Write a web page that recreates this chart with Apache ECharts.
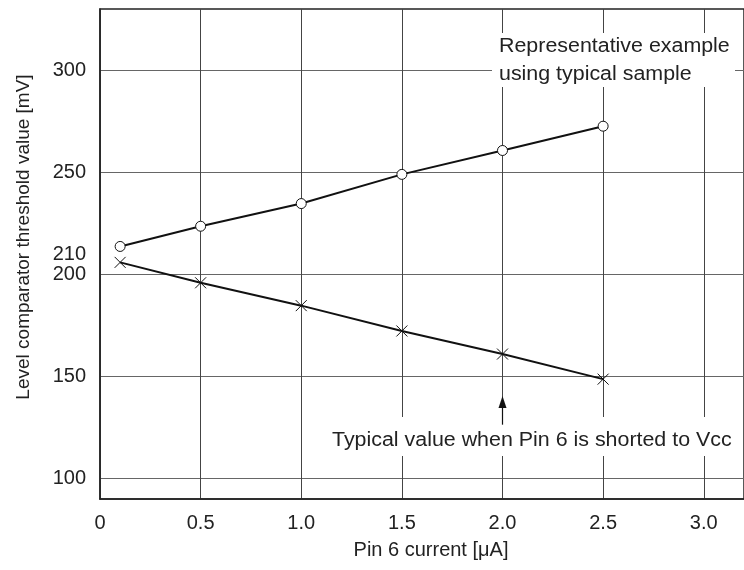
<!DOCTYPE html>
<html>
<head>
<meta charset="utf-8">
<script src="https://cdn.jsdelivr.net/npm/echarts@6/dist/echarts.min.js"></script>
<style>html,body{margin:0;padding:0;background:#fff}#c{width:744px;height:570px}</style>
</head>
<body>
<div id="c"></div>
<script>
const xValues = [0.1, 0.5, 1.0, 1.5, 2.0, 2.5];
const representative = [213.7, 223.6, 234.7, 249.0, 260.7, 272.6];
const shortedToVcc = [205.9, 195.9, 184.7, 172.3, 161.0, 148.7];
const xTicks = [0, 0.5, 1.0, 1.5, 2.0, 2.5, 3.0];
const yGridTicks = [100, 150, 200, 250, 300];
const yLabelTicks = [100, 150, 200, 210, 250, 300];
const arrowFrom = [2.0, 126.4];
const arrowTo = [2.0, 137.5];
const noteTop = 'Representative example\nusing typical sample';
const noteBottom = 'Typical value when Pin 6 is shorted to Vcc';
const xName = 'Pin 6 current [μA]';
const yName = 'Level comparator threshold value [mV]';

const font = 'Liberation Sans, Arial, sans-serif';
const chart = echarts.init(document.getElementById('c'));
chart.setOption({
  animation: false,
  grid: { left: 100, right: -11, top: 9, bottom: 71, show: true, borderColor: '#222', borderWidth: 1.5, containLabel: false },
  xAxis: {
    type: 'value', min: 0, max: 3.2,
    name: xName, nameLocation: 'middle', nameGap: 41,
    nameTextStyle: { fontFamily: font, fontSize: 20, color: '#222', padding: [0, 0, 0, 18] },
    axisLine: { show: true, lineStyle: { color: '#222', width: 1.5 } },
    axisTick: { show: false, customValues: xTicks },
    axisLabel: { customValues: xTicks, fontFamily: font, fontSize: 20, color: '#222', margin: 14,
      formatter: v => v === 0 ? '0' : v.toFixed(1) },
    splitLine: { show: true, lineStyle: { color: '#444', width: 1 } }
  },
  yAxis: {
    type: 'value', min: 90, max: 330,
    name: yName, nameLocation: 'middle', nameGap: 67,
    nameTextStyle: { fontFamily: font, fontSize: 19, color: '#222', padding: [0, 0, 0, 34] },
    axisLine: { show: true, lineStyle: { color: '#222', width: 1.5 } },
    axisTick: { show: false, customValues: yGridTicks },
    axisLabel: { customValues: yLabelTicks, fontFamily: font, fontSize: 20, color: '#222', margin: 14 },
    splitLine: { show: true, lineStyle: { color: '#666', width: 1 } }
  },
  graphic: [
    { type: 'rect', left: 492, top: 33, z: 10, shape: { width: 243, height: 54 }, style: { fill: '#fff' } },
    { type: 'text', left: 499, top: 32, z: 11, scaleX: 1.07,
      style: { text: noteTop, font: '20px ' + font, fill: '#222', lineHeight: 28 } },
    { type: 'rect', left: 326, top: 417, z: 10, shape: { width: 410, height: 39 }, style: { fill: '#fff' } },
    { type: 'text', left: 332, top: 430, z: 11, scaleX: 1.07,
      style: { text: noteBottom, font: '20px ' + font, fill: '#222' } }
  ],
  series: [
    {
      type: 'line', z: 20,
      data: xValues.map((x, i) => [x, representative[i]]),
      symbol: 'circle', symbolSize: 10,
      lineStyle: { color: '#111', width: 2 },
      itemStyle: { color: '#fff', borderColor: '#111', borderWidth: 1 }
    },
    {
      type: 'line', z: 20,
      data: xValues.map((x, i) => [x, shortedToVcc[i]]),
      symbol: 'path://M0,0L10,10M10,0L0,10', symbolSize: 11, symbolKeepAspect: true,
      lineStyle: { color: '#111', width: 2 },
      itemStyle: { color: 'none', borderColor: '#111', borderWidth: 1 },
      markLine: {
        silent: true, z: 30,
        symbol: ['none', 'triangle'], symbolSize: [8, 12],
        label: { show: false },
        lineStyle: { color: '#111', width: 1.2, type: 'solid' },
        data: [[{ coord: arrowFrom }, { coord: arrowTo }]]
      }
    }
  ]
});
</script>
</body>
</html>
